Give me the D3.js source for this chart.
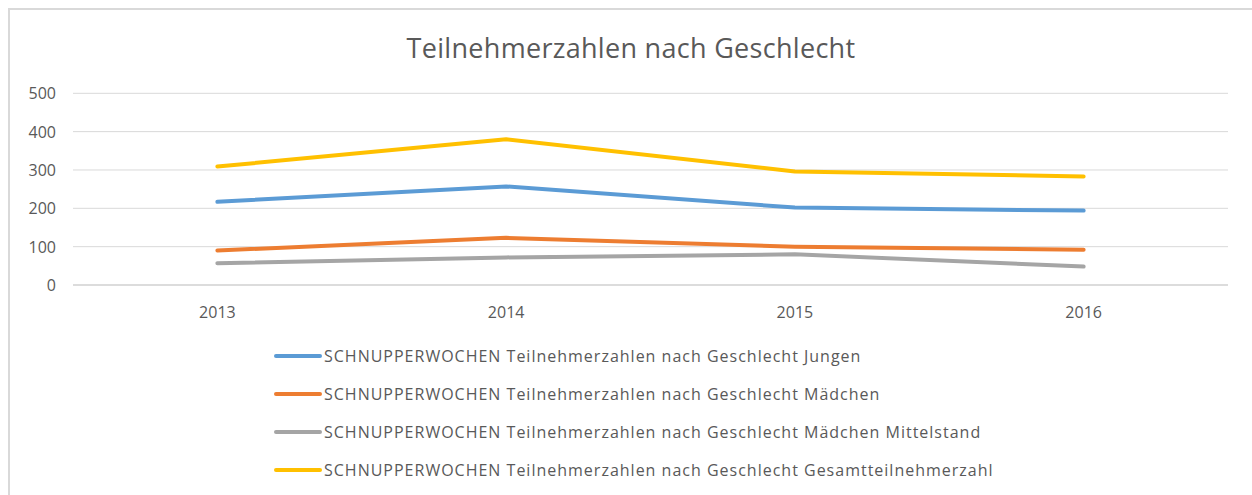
<!DOCTYPE html>
<html>
<head>
<meta charset="utf-8">
<script src="https://cdn.jsdelivr.net/npm/d3@7"></script>
<style>
  body { margin: 0; background: #fff; }
  text { font-family: "Open Sans", "Noto Sans", sans-serif; fill: #595959; }
</style>
</head>
<body>
<svg id="chart" width="1252" height="495"></svg>
<script>
var years = ["2013", "2014", "2015", "2016"];
var yTicks = [0, 100, 200, 300, 400, 500];
var seriesNames = [
  "SCHNUPPERWOCHEN Teilnehmerzahlen nach Geschlecht Jungen",
  "SCHNUPPERWOCHEN Teilnehmerzahlen nach Geschlecht Mädchen",
  "SCHNUPPERWOCHEN Teilnehmerzahlen nach Geschlecht Mädchen Mittelstand",
  "SCHNUPPERWOCHEN Teilnehmerzahlen nach Geschlecht Gesamtteilnehmerzahl"
];
var jungen = [217, 257, 202, 194];
var maedchen = [90, 123, 100, 92];
var mittelstand = [57, 72, 80, 48];
var gesamt = [309, 380, 296, 283];
var colors = ["#5b9bd5", "#ed7d31", "#a5a5a5", "#ffc000"];

var series = [jungen, maedchen, mittelstand, gesamt];

var svg = d3.select("#chart");

// chart frame
svg.append("rect")
  .attr("x", 9).attr("y", 9)
  .attr("width", 1260).attr("height", 500)
  .style("fill", "none").style("stroke", "#d9d9d9").style("stroke-width", 2);

svg.append("text")
  .attr("x", 631).attr("y", 58)
  .attr("text-anchor", "middle")
  .style("font-size", "27px")
  .style("letter-spacing", "0.3px")
  .text("Teilnehmerzahlen nach Geschlecht");

var x = d3.scaleBand().domain(years).range([73, 1228]);
var y = d3.scaleLinear().domain([0, 500]).range([285, 93.3]);

// gridlines
svg.append("g")
  .selectAll("line")
  .data(yTicks)
  .enter().append("line")
  .attr("x1", 73).attr("x2", 1228)
  .attr("y1", function(d) { return y(d); })
  .attr("y2", function(d) { return y(d); })
  .style("stroke", function(d) { return d == 0 ? "#d0d0d0" : "#d9d9d9"; })
  .style("stroke-width", function(d) { return d == 0 ? 1.5 : 1; });

// y labels
svg.append("g")
  .selectAll("text")
  .data(yTicks)
  .enter().append("text")
  .attr("x", 56)
  .attr("y", function(d) { return y(d) + 6; })
  .attr("text-anchor", "end")
  .style("font-size", "16px")
  .text(function(d) { return d; });

// x labels
svg.append("g")
  .selectAll("text")
  .data(years)
  .enter().append("text")
  .attr("x", function(d) { return x(d) + x.bandwidth() / 2; })
  .attr("y", 318)
  .attr("text-anchor", "middle")
  .style("font-size", "16px")
  .text(function(d) { return d; });

var line = d3.line()
  .x(function(d, i) { return x(years[i]) + x.bandwidth() / 2; })
  .y(function(d) { return y(d); });

svg.append("g")
  .selectAll("path")
  .data(series)
  .enter().append("path")
  .attr("d", line)
  .style("fill", "none")
  .style("stroke", function(d, i) { return colors[i]; })
  .style("stroke-width", 4)
  .style("stroke-linecap", "round")
  .style("stroke-linejoin", "round");

// legend
var legend = svg.append("g")
  .selectAll("g")
  .data(seriesNames)
  .enter().append("g")
  .attr("transform", function(d, i) { return "translate(0," + (356 + i * 38) + ")"; });

legend.append("line")
  .attr("x1", 276).attr("x2", 320)
  .attr("y1", 0).attr("y2", 0)
  .style("stroke", function(d, i) { return colors[i]; })
  .style("stroke-width", 4)
  .style("stroke-linecap", "round");

legend.append("text")
  .attr("x", 324).attr("y", 6)
  .style("font-size", "16px")
  .style("letter-spacing", "1px")
  .text(function(d) { return d; });
</script>
</body>
</html>
